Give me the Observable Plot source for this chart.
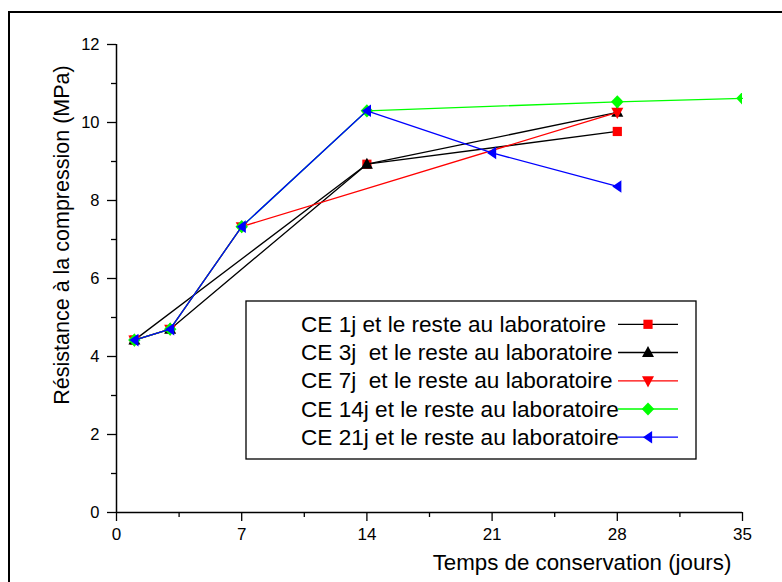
<!DOCTYPE html>
<html>
<head>
<meta charset="utf-8">
<script src="https://cdn.jsdelivr.net/npm/d3@7"></script>
<script src="https://cdn.jsdelivr.net/npm/@observablehq/plot@0.6"></script>
<style>
  html, body { margin: 0; padding: 0; background: #fff; overflow: hidden; }
  #wrap { position: relative; width: 782px; height: 582px; overflow: hidden; }
  #frame { position: absolute; left: 8px; top: 11px; width: 900px; height: 700px; border: 2px solid #000; box-sizing: border-box; pointer-events: none; }
  #chart { position: absolute; left: 0; top: 0; }
</style>
</head>
<body>
<div id="wrap"><div id="chart"></div><div id="frame"></div></div>
<script>
// ---- data ----
const seriesNames = [
  "CE 1j et le reste au laboratoire",
  "CE 3j  et le reste au laboratoire",
  "CE 7j  et le reste au laboratoire",
  "CE 14j et le reste au laboratoire",
  "CE 21j et le reste au laboratoire"
];
const days1  = [1, 14, 28];
const ce1    = [4.42, 8.93, 9.77];
const days3  = [1, 3, 14, 28];
const ce3    = [4.42, 4.70, 8.93, 10.26];
const days7  = [1, 3, 7, 28];
const ce7    = [4.42, 4.70, 7.33, 10.26];
const days14 = [1, 3, 7, 14, 28, 35];
const ce14   = [4.42, 4.70, 7.33, 10.30, 10.53, 10.62];
const days21 = [1, 3, 7, 14, 21, 28];
const ce21   = [4.42, 4.70, 7.33, 10.30, 9.22, 8.36];

const xMajor = [0, 7, 14, 21, 28, 35];
const xMinor = [3.5, 10.5, 17.5, 24.5, 31.5];
const yMajor = [0, 2, 4, 6, 8, 10, 12];
const yMinor = [1, 3, 5, 7, 9, 11];

const xTitle = "Temps de conservation (jours)";
const yTitle = "Résistance à la compression (MPa)";

// ---- symbols ----
const rOf = size => Math.sqrt(size / Math.PI);
const symSquare = {draw(c, s){ const r = rOf(s); c.rect(-r, -r, 2*r, 2*r); }};
const symUp = {draw(c, s){ const r = rOf(s); c.moveTo(0, -1.1*r); c.lineTo(r, 0.75*r); c.lineTo(-r, 0.75*r); c.closePath(); }};
const symDown = {draw(c, s){ const r = rOf(s); c.moveTo(0, 1.1*r); c.lineTo(r, -0.75*r); c.lineTo(-r, -0.75*r); c.closePath(); }};
const symDiamond = {draw(c, s){ const r = rOf(s); c.moveTo(0, -r); c.lineTo(0.95*r, 0); c.lineTo(0, r); c.lineTo(-0.95*r, 0); c.closePath(); }};
const symLeft = {draw(c, s){ const r = rOf(s); c.moveTo(-0.8*r, 0); c.lineTo(0.65*r, -r); c.lineTo(0.65*r, r); c.closePath(); }};

const series = [
  {name: seriesNames[0], days: days1,  vals: ce1,  line: "#000000", mark: "#ff0000", sym: symSquare,  r: 4.6},
  {name: seriesNames[1], days: days3,  vals: ce3,  line: "#000000", mark: "#000000", sym: symUp,      r: 6},
  {name: seriesNames[2], days: days7,  vals: ce7,  line: "#ff0000", mark: "#ff0000", sym: symDown,    r: 6},
  {name: seriesNames[3], days: days14, vals: ce14, line: "#00ff00", mark: "#00ff00", sym: symDiamond, r: 6.6},
  {name: seriesNames[4], days: days21, vals: ce21, line: "#0000ff", mark: "#0000ff", sym: symLeft,    r: 6.3}
];

const seriesMarks = [];
for (const s of series) {
  const rows = s.days.map((d, i) => ({day: d, value: s.vals[i]}));
  seriesMarks.push(Plot.line(rows, {x: "day", y: "value", stroke: s.line, strokeWidth: 1.3}));
  seriesMarks.push(Plot.dot(rows, {x: "day", y: "value", symbol: s.sym, r: s.r, fill: s.mark, stroke: "none", clip: true}));
}

const font = "'Liberation Sans', Arial, Helvetica, sans-serif";

const chart = Plot.plot({
  width: 782,
  height: 582,
  marginLeft: 116,
  marginRight: 40,
  marginTop: 44,
  marginBottom: 70,
  style: {fontFamily: font, background: "transparent", color: "#000"},
  x: {domain: [0, 35]},
  y: {domain: [0, 12]},
  marks: [
    Plot.axisY({ticks: yMajor, tickSize: 9, tickPadding: 8, fontSize: 16.5, label: null, strokeWidth: 1.3}),
    Plot.axisY({ticks: yMinor, tickSize: 5, text: null, label: null, strokeWidth: 1.3}),
    Plot.axisX({ticks: xMajor, tickSize: 9, tickPadding: 6, fontSize: 17, label: null, strokeWidth: 1.3}),
    Plot.axisX({ticks: xMinor, tickSize: 5, text: null, label: null, strokeWidth: 1.3}),
    Plot.ruleX([0], {strokeWidth: 1.5}),
    Plot.ruleY([0], {strokeWidth: 1.5}),
    ...seriesMarks
  ]
});

document.getElementById("chart").appendChild(chart);

// ---- titles & legend ----
const svg = d3.select(chart);
svg.append("text")
  .attr("transform", "translate(62,235) rotate(-90)")
  .attr("text-anchor", "middle")
  .attr("dominant-baseline", "central")
  .attr("font-family", font)
  .attr("font-size", 21.5)
  .attr("fill", "#000")
  .text(yTitle);
svg.append("text")
  .attr("x", 582).attr("y", 570)
  .attr("text-anchor", "middle")
  .attr("font-family", font)
  .attr("font-size", 22.3)
  .attr("fill", "#000")
  .text(xTitle);

const lg = svg.append("g");
lg.append("rect").attr("x", 246).attr("y", 301).attr("width", 450).attr("height", 158)
  .attr("fill", "#fff").attr("stroke", "#000").attr("stroke-width", 1.3);
const rowY = [324.3, 352.5, 380.8, 409, 437.2];
series.forEach((s, i) => {
  const y = rowY[i];
  lg.append("text").attr("x", 301).attr("y", y)
    .attr("text-anchor", "start")
    .attr("dominant-baseline", "central")
    .attr("font-family", font).attr("font-size", 22.6).attr("fill", "#000")
    .style("white-space", "pre")
    .attr("xml:space", "preserve")
    .text(s.name);
  lg.append("line").attr("x1", 618).attr("x2", 678).attr("y1", y).attr("y2", y)
    .attr("stroke", s.line).attr("stroke-width", 1.3);
  lg.append("path").attr("transform", `translate(648,${y})`)
    .attr("d", d3.symbol(s.sym, s.r * s.r * Math.PI)())
    .attr("fill", s.mark);
});
</script>
</body>
</html>
